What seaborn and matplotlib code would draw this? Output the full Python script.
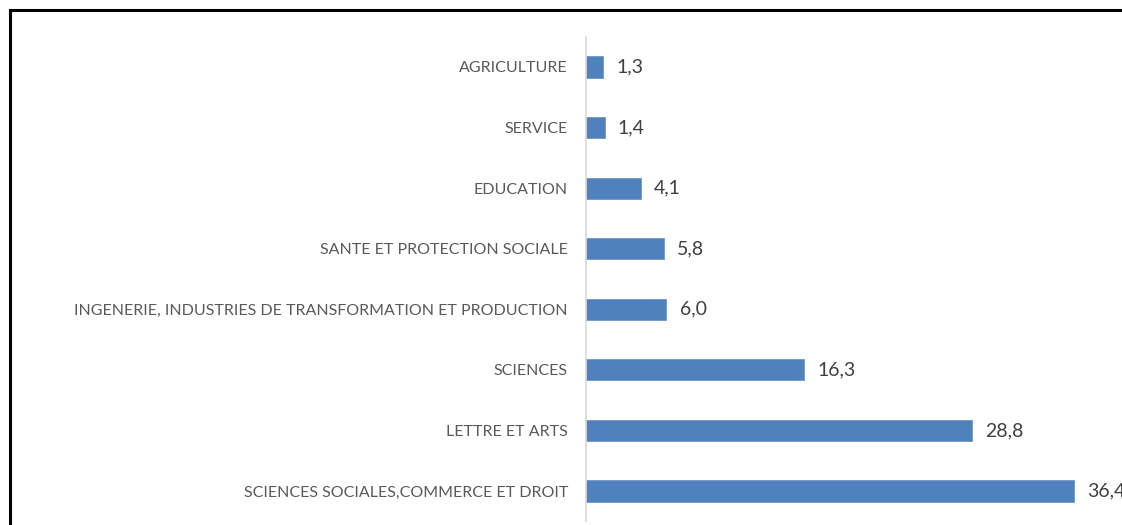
import matplotlib
matplotlib.use("Agg")
import matplotlib.pyplot as plt
from matplotlib.lines import Line2D
import seaborn as sns
import pandas as pd

# data
categories = [
    "AGRICULTURE",
    "SERVICE",
    "EDUCATION",
    "SANTE ET PROTECTION SOCIALE",
    "INGENERIE, INDUSTRIES DE TRANSFORMATION ET PRODUCTION",
    "SCIENCES",
    "LETTRE ET ARTS",
    "SCIENCES SOCIALES,COMMERCE ET DROIT",
]
values = [1.3, 1.4, 4.1, 5.8, 6.0, 16.3, 28.8, 36.4]

df = pd.DataFrame({"domaine": categories, "pct": values})

sns.set_style("white")
plt.rcParams["font.family"] = ["Lato", "DejaVu Sans"]

W, H = 1122, 525
fig = plt.figure(figsize=(W / 100, H / 100), dpi=100)
# axes placed in pixel terms: value axis starts at x=586
ax = fig.add_axes([586 / W, (H - 521.3) / H, 1 - 586 / W, (521.3 - 36.7) / H])

sns.barplot(data=df, y="domaine", x="pct", orient="h", color="#4F81BD",
            width=0.35, saturation=1, edgecolor="#6F97C9", linewidth=0.6, ax=ax)

ax.set_xlim(0, 40)
ax.set_xlabel("")
ax.set_ylabel("")
ax.xaxis.set_visible(False)
for s in ["top", "right", "bottom"]:
    ax.spines[s].set_visible(False)
ax.spines["left"].set_color("#D9D9D9")
ax.spines["left"].set_linewidth(1.2)
ax.tick_params(axis="y", length=0, pad=13, labelsize=11.5, labelcolor="#595959")

labels = [f"{v:.1f}".replace(".", ",") for v in values]
ax.bar_label(ax.containers[0], labels=labels, padding=9.5, fontsize=14,
             color="#404040", clip_on=False)

# black frame cut by the picture edges
fig.add_artist(Line2D([10 / W, 10 / W], [-0.1, 1 - 10 / H], transform=fig.transFigure,
                      color="black", linewidth=2.2, solid_capstyle="projecting"))
fig.add_artist(Line2D([10 / W, 1.1], [1 - 10 / H, 1 - 10 / H], transform=fig.transFigure,
                      color="black", linewidth=2.2, solid_capstyle="projecting"))

fig.savefig("out.png", dpi=100)
